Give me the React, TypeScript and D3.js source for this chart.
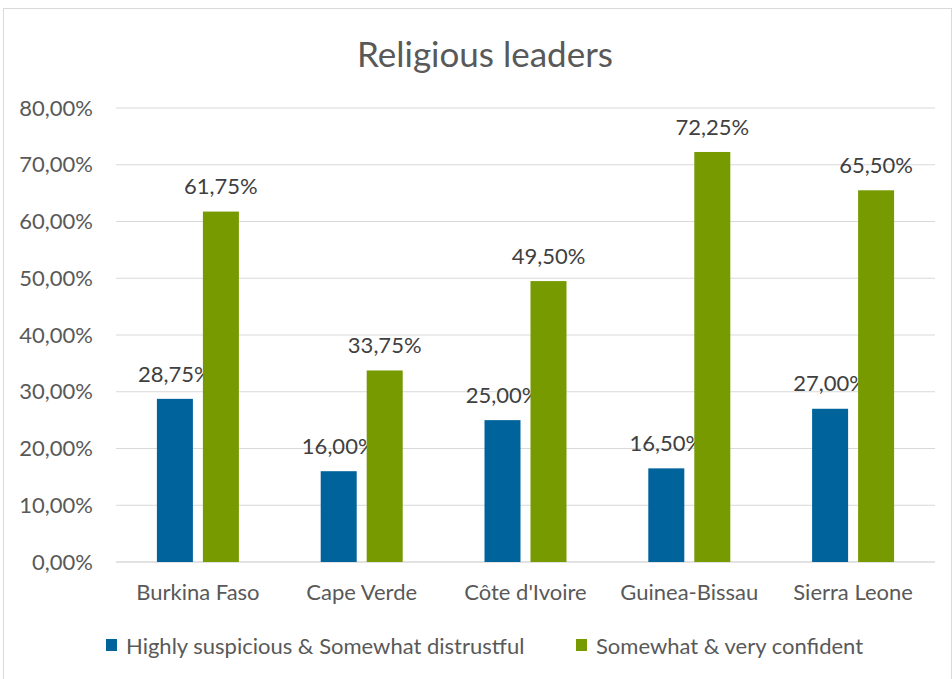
import React from "react";
import * as d3 from "d3";

const categories = ["Burkina Faso", "Cape Verde", "Côte d'Ivoire", "Guinea-Bissau", "Sierra Leone"];
const seriesNames = ["Highly suspicious & Somewhat distrustful", "Somewhat & very confident"];
const suspicious = [28.75, 16.0, 25.0, 16.5, 27.0];
const confident = [61.75, 33.75, 49.5, 72.25, 65.5];
const yTicks = [0, 10, 20, 30, 40, 50, 60, 70, 80];
const colors = ["#00639B", "#769A00"];

const W = 952;
const H = 679;
const FONT = "Lato, 'Open Sans', sans-serif";

const fmt = (v: number) => v.toFixed(2).replace(".", ",") + "%";

export default function App() {
  const plotLeft = 116;
  const plotRight = 935;
  const plotTop = 108;
  const plotBottom = 562;

  const x = d3.scaleBand<string>().domain(categories).range([plotLeft, plotRight]).paddingInner(0).paddingOuter(0);
  const y = d3.scaleLinear().domain([0, 80]).range([plotBottom, plotTop]);
  const barW = 36;
  const gap = 10;
  const series = [suspicious, confident];

  return (
    <svg width={W} height={H} style={{ position: "absolute", left: 0, top: 0 }} fontFamily={FONT}>
      <rect x={3.5} y={8.5} width={W - 4} height={H - 7} fill="#fff" stroke="#d9d9d9" />
      <text x={485} y={55} dy="0.35em" textAnchor="middle" fontSize={35} fill="#595959">Religious leaders</text>
      {yTicks.map((t) => (
        <g key={t}>
          <line x1={plotLeft} x2={plotRight} y1={y(t)} y2={y(t)} stroke="#d9d9d9" strokeWidth={t === 0 ? 1.5 : 1.2} />
          <text x={93} y={y(t)} dy="0.35em" textAnchor="end" fontSize={22} fill="#595959">{fmt(t)}</text>
        </g>
      ))}
      {categories.map((c, i) => {
        const cx = x(c)! + x.bandwidth() / 2;
        return (
          <g key={c}>
            {series.map((s, j) => {
              const bx = j === 0 ? cx - gap / 2 - barW : cx + gap / 2;
              return (
                <g key={j}>
                  <rect x={bx} y={y(s[i])} width={barW} height={y(0) - y(s[i])} fill={colors[j]} />
                  <text x={bx + barW / 2} y={y(s[i]) - 25} dy="0.35em" textAnchor="middle" fontSize={22} fill="#404040">{fmt(s[i])}</text>
                </g>
              );
            })}
            <text x={cx} y={592} dy="0.35em" textAnchor="middle" fontSize={22} fill="#595959">{c}</text>
          </g>
        );
      })}
      {seriesNames.map((n, j) => {
        const lx = j === 0 ? 106 : 576;
        return (
          <g key={n}>
            <rect x={lx} y={639} width={11} height={12} fill={colors[j]} />
            <text x={lx + 20} y={646} dy="0.35em" fontSize={22} fill="#595959">{n}</text>
          </g>
        );
      })}
    </svg>
  );
}
